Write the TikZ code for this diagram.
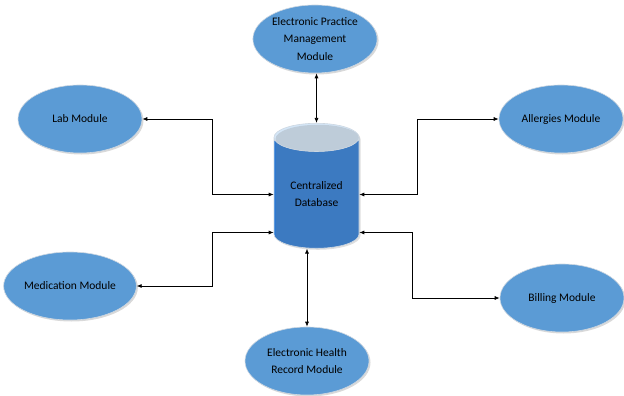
\documentclass[tikz,border=0pt]{standalone}
\usepackage{fontspec}
\setmainfont{Carlito}
\usepackage{tikz}
\usetikzlibrary{arrows.meta,positioning,shapes,shadows,calc}
\tikzset{
  modbox/.style={ellipse, draw=rimgray, fill=modblue, line width=0.6pt,
                 minimum width=124pt, minimum height=68pt, align=center,
                 font=\fontsize{11.5}{17.5}\selectfont, inner sep=1pt,
                 drop shadow={opacity=0.3, shadow xshift=1.5pt,
                              shadow yshift=-1.5pt}},
  dbbox/.style ={cylinder, shape border rotate=90, aspect=0.52,
                 draw=rimgray, line width=0.6pt,
                 cylinder uses custom fill, cylinder body fill=dbblue,
                 cylinder end fill=dbtop,
                 minimum width=85pt, minimum height=125pt, align=center,
                 font=\fontsize{11.5}{17}\selectfont, inner sep=1pt,
                 drop shadow={opacity=0.25, shadow xshift=1.5pt,
                              shadow yshift=-1.5pt}},
  barr/.style  ={{Latex[length=5pt,width=4pt]}-{Latex[length=5pt,width=4pt]},
                 line width=0.7pt},
}
\definecolor{modblue}{RGB}{91,155,213}
\definecolor{dbblue} {RGB}{38,120,215}
\definecolor{dbtop}  {RGB}{212,230,247}
\definecolor{rimgray}{RGB}{205,215,225}

\begin{document}
\begin{tikzpicture}[x=1pt,y=-1pt]
  \useasboundingbox (0,0) rectangle (624,396);
  \node[dbbox]  (db)   at (316.5,194.5) {Centralized\\Database};
  \node[modbox] (epm)  at (315,39)    {Electronic Practice\\Management\\Module};
  \node[modbox] (lab)  at (80,119)    {Lab Module};
  \node[modbox] (all)  at (561,119)   {Allergies Module};
  \node[modbox] (med)  at (70,286)    {Medication Module};
  \node[modbox] (bill) at (562,298)   {Billing Module};
  \node[modbox] (ehr)  at (307,361)   {Electronic Health\\Record Module};
  % links to the database
  \draw[barr](db.north)--(db.north |- epm.south);
  \draw[barr](ehr.north)--(ehr.north |- db.south);
  \draw[barr](lab.east)--++(70,0)|-(db.west);
  \draw[barr](all.west)--++(-81,0)|-(db.east);
  \draw[barr](med.east)--++(76,0)|-($(db.west)+(0,38)$);
  \draw[barr](bill.west)--++(-87,0)|-($(db.east)+(0,38)$);
\end{tikzpicture}
\end{document}
